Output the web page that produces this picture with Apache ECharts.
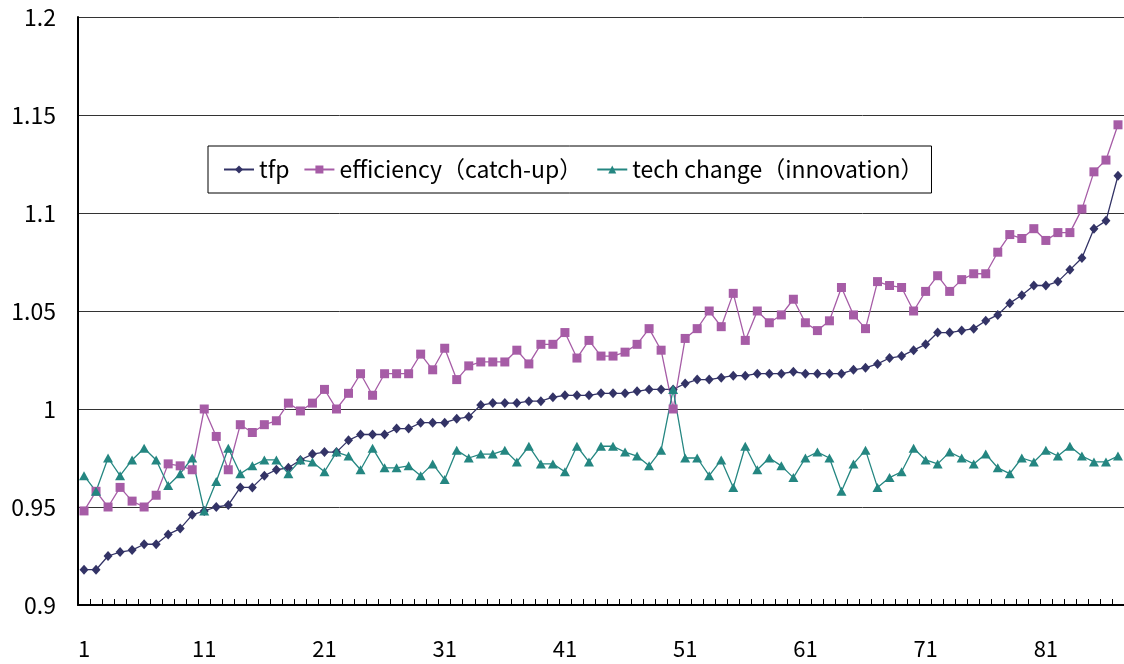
<!DOCTYPE html>
<html>
<head>
<meta charset="utf-8">
<title>tfp / efficiency / tech change</title>
<script src="https://cdn.jsdelivr.net/npm/echarts@6/dist/echarts.min.js"></script>
<style>
  html, body { margin: 0; padding: 0; background: #fff; }
  #chart { width: 1124px; height: 664px; }
</style>
</head>
<body>
<div id="chart"></div>
<script>
// x categories (observation rank)
const categories = [
  '1', '2', '3', '4', '5', '6', '7', '8', '9', '10',
  '11', '12', '13', '14', '15', '16', '17', '18', '19', '20',
  '21', '22', '23', '24', '25', '26', '27', '28', '29', '30',
  '31', '32', '33', '34', '35', '36', '37', '38', '39', '40',
  '41', '42', '43', '44', '45', '46', '47', '48', '49', '50',
  '51', '52', '53', '54', '55', '56', '57', '58', '59', '60',
  '61', '62', '63', '64', '65', '66', '67', '68', '69', '70',
  '71', '72', '73', '74', '75', '76', '77', '78', '79', '80',
  '81', '82', '83', '84', '85', '86', '87'
];

const tfp = [
  0.918, 0.918, 0.925, 0.927, 0.928, 0.931, 0.931, 0.936, 0.939, 0.946,
  0.948, 0.950, 0.951, 0.960, 0.960, 0.966, 0.969, 0.970, 0.974, 0.977,
  0.978, 0.978, 0.984, 0.987, 0.987, 0.987, 0.990, 0.990, 0.993, 0.993,
  0.993, 0.995, 0.996, 1.002, 1.003, 1.003, 1.003, 1.004, 1.004, 1.006,
  1.007, 1.007, 1.007, 1.008, 1.008, 1.008, 1.009, 1.010, 1.010, 1.010,
  1.013, 1.015, 1.015, 1.016, 1.017, 1.017, 1.018, 1.018, 1.018, 1.019,
  1.018, 1.018, 1.018, 1.018, 1.020, 1.021, 1.023, 1.026, 1.027, 1.030,
  1.033, 1.039, 1.039, 1.040, 1.041, 1.045, 1.048, 1.054, 1.058, 1.063,
  1.063, 1.065, 1.071, 1.077, 1.092, 1.096, 1.119
];

const efficiency = [
  0.948, 0.958, 0.950, 0.960, 0.953, 0.950, 0.956, 0.972, 0.971, 0.969,
  1.000, 0.986, 0.969, 0.992, 0.988, 0.992, 0.994, 1.003, 0.999, 1.003,
  1.010, 1.000, 1.008, 1.018, 1.007, 1.018, 1.018, 1.018, 1.028, 1.020,
  1.031, 1.015, 1.022, 1.024, 1.024, 1.024, 1.030, 1.023, 1.033, 1.033,
  1.039, 1.026, 1.035, 1.027, 1.027, 1.029, 1.033, 1.041, 1.030, 1.000,
  1.036, 1.041, 1.050, 1.042, 1.059, 1.035, 1.050, 1.044, 1.048, 1.056,
  1.044, 1.040, 1.045, 1.062, 1.048, 1.041, 1.065, 1.063, 1.062, 1.050,
  1.060, 1.068, 1.060, 1.066, 1.069, 1.069, 1.080, 1.089, 1.087, 1.092,
  1.086, 1.090, 1.090, 1.102, 1.121, 1.127, 1.145
];

const techChange = [
  0.966, 0.958, 0.975, 0.966, 0.974, 0.980, 0.974, 0.961, 0.967, 0.975,
  0.948, 0.963, 0.980, 0.967, 0.971, 0.974, 0.974, 0.967, 0.974, 0.973,
  0.968, 0.978, 0.976, 0.969, 0.980, 0.970, 0.970, 0.971, 0.966, 0.972,
  0.964, 0.979, 0.975, 0.977, 0.977, 0.979, 0.973, 0.981, 0.972, 0.972,
  0.968, 0.981, 0.973, 0.981, 0.981, 0.978, 0.976, 0.971, 0.979, 1.010,
  0.975, 0.975, 0.966, 0.974, 0.960, 0.981, 0.969, 0.975, 0.971, 0.965,
  0.975, 0.978, 0.975, 0.958, 0.972, 0.979, 0.960, 0.965, 0.968, 0.980,
  0.974, 0.972, 0.978, 0.975, 0.972, 0.977, 0.970, 0.967, 0.975, 0.973,
  0.979, 0.976, 0.981, 0.976, 0.973, 0.973, 0.976
];

const seriesNames = ['tfp', 'efficiency（catch-up）', 'tech change（innovation）'];

const font = '"Noto Sans CJK JP", "Noto Sans", sans-serif';

const chart = echarts.init(document.getElementById('chart'));

const makeLine = (name, data, color, symbol, size) => ({
  name: name,
  type: 'line',
  data: data,
  symbol: symbol,
  symbolSize: size,
  showAllSymbol: true,
  animation: false,
  lineStyle: { color: color, width: 1.3 },
  itemStyle: { color: color },
  emphasis: { disabled: true }
});

const option = {
  animation: false,
  textStyle: { fontFamily: font },
  grid: {
    left: 78,
    top: 17,
    width: 1050,
    bottom: 59
  },
  legend: {
    left: 208,
    top: 146,
    padding: [12, 8, 12, 15],
    itemWidth: 30,
    itemHeight: 10,
    itemGap: 14,
    borderColor: '#000',
    borderWidth: 1,
    backgroundColor: '#fff',
    textStyle: { fontFamily: font, fontSize: 23, color: '#000' },
    data: seriesNames
  },
  xAxis: {
    type: 'category',
    data: categories,
    boundaryGap: true,
    axisLine: { lineStyle: { color: '#000', width: 2 } },
    axisTick: {
      show: true,
      inside: true,
      length: 6,
      interval: 0,
      lineStyle: { color: '#000', width: 1 }
    },
    axisLabel: {
      interval: 9,
      margin: 33,
      fontSize: 22,
      color: '#000',
      fontFamily: font
    },
    splitLine: { show: false }
  },
  yAxis: {
    type: 'value',
    min: 0.9,
    max: 1.2,
    interval: 0.05,
    axisLine: { show: true, lineStyle: { color: '#000', width: 2 } },
    axisTick: { show: false },
    axisLabel: {
      margin: 22,
      fontSize: 23,
      color: '#000',
      fontFamily: font,
      formatter: v => String(+v.toFixed(2))
    },
    splitLine: { lineStyle: { color: '#333', width: 1 } }
  },
  series: [
    makeLine(seriesNames[0], tfp, '#333366', 'diamond', [9, 10]),
    makeLine(seriesNames[1], efficiency, '#A65CA6', 'rect', 9),
    makeLine(seriesNames[2], techChange, '#248681', 'triangle', [10, 9])
  ]
};

chart.setOption(option);
</script>
</body>
</html>
